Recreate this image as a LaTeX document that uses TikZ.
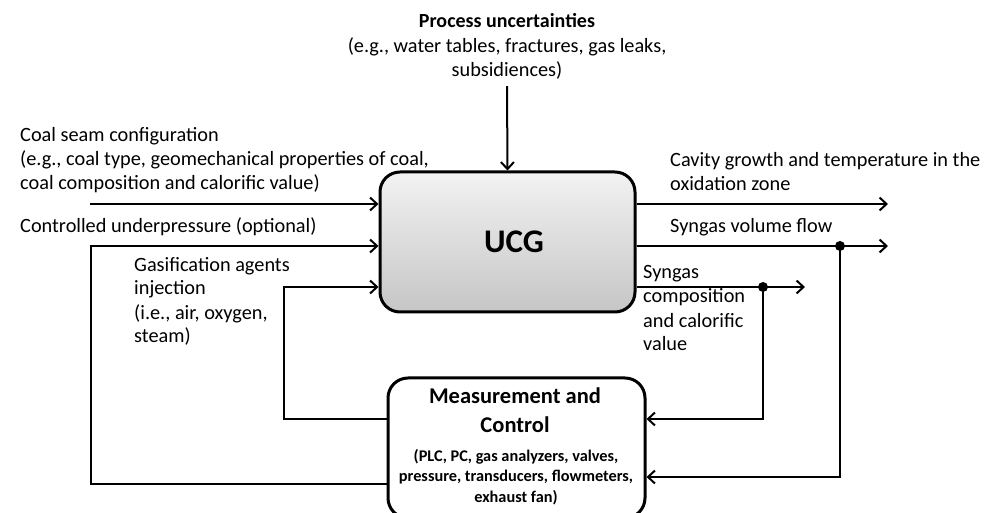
\documentclass[tikz,border=0pt]{standalone}
\usepackage{fontspec}
\setmainfont{Carlito}
\usetikzlibrary{arrows.meta}
\begin{document}
\begin{tikzpicture}[x=1pt,y=-1pt,
  ln/.style={line width=2pt},
  arr/.style={ln,-{Straight Barb[length=7pt,width=13pt,line width=2pt]}},
  txt/.style={inner sep=0pt,font=\fontsize{20.3}{24}\selectfont,align=left},
  btxt/.style={inner sep=0pt,font=\fontsize{20}{24}\selectfont\bfseries,align=center},
  dot/.style={circle,fill=black,inner sep=0pt,minimum size=10pt},
  ucgbox/.style={draw,line width=3pt,rounded corners=20pt,top color=gray!10,bottom color=gray!45,minimum width=255pt,minimum height=140pt,font=\fontsize{33}{36}\selectfont\bfseries},
  mcbox/.style={draw,line width=3pt,rounded corners=20pt,fill=white,minimum width=257pt,minimum height=140pt}
]
\useasboundingbox (0,0) rectangle (989,513);
\fill[white] (0,0) rectangle (989,513);

% boxes
\node[ucgbox] (ucg) at (507.5,242) {\hspace*{13pt}UCG};
\begin{scope}
\clip (0,0) rectangle (989,513);
\node[mcbox] (mc) at (516.5,448) {};
\end{scope}

% texts (base anchor = baseline of the last line)
\node[btxt,anchor=base] (pu) at (507,28) {Process uncertainties};
\node[txt,align=center,anchor=base] (pud) at (507,77) {(e.g., water tables, fractures, gas leaks,\\subsidiences)};
\node[txt,anchor=base west] (coal) at (20,190) {Coal seam configuration\\(e.g., coal type, geomechanical properties of coal,\\coal composition and calorific value)};
\node[txt,anchor=base west] (ctrl) at (20,233) {Controlled underpressure (optional)};
\node[txt,anchor=base west] (gas) at (134,343) {Gasification agents\\injection\\(i.e., air, oxygen,\\steam)};
\node[txt,anchor=base west] (cav) at (670,191) {Cavity growth and temperature in the\\oxidation zone};
\node[txt,anchor=base west] (svf) at (670,233) {Syngas volume flow};
\node[txt,anchor=base west] (sc) at (643,351) {Syngas\\composition\\and calorific\\value};
\node[btxt,font=\fontsize{22.5}{29}\selectfont\bfseries,anchor=base] (mct) at (515,432) {Measurement and\\Control};
\node[btxt,font=\fontsize{16.3}{20.5}\selectfont\bfseries,anchor=base] (mcs) at (516,502) {(PLC, PC, gas analyzers, valves,\\pressure, transducers, flowmeters,\\exhaust fan)};

% coordinates
\coordinate (in1) at (90,204);
\coordinate (out1) at (888,204);
\coordinate (out2) at (888,246);
\coordinate (out3) at (805,287);
\node[dot] (d1) at (840,246) {};
\node[dot] (d2) at (763,287) {};

% connectors
\draw[arr] ([yshift=-6pt]pud.south) -- (ucg.north);
\draw[arr] (in1) -- (in1 -| ucg.west);
\draw[arr] (mc.west |- 0,484) -- (91,484) -- (91,246) -- (ucg.west |- 0,246);
\draw[arr] (mc.west |- 0,419) -- (284,419) -- (284,287) -- (ucg.west |- 0,287);
\draw[arr] (ucg.east |- out1) -- (out1);
\draw[arr] (ucg.east |- out2) -- (out2);
\draw[arr] (ucg.east |- out3) -- (out3);
\draw[arr] (d2.center) -- (763,419) -- (mc.east |- 0,419);
\draw[arr] (d1.center) -- (840,477) -- (mc.east |- 0,477);
\end{tikzpicture}
\end{document}
